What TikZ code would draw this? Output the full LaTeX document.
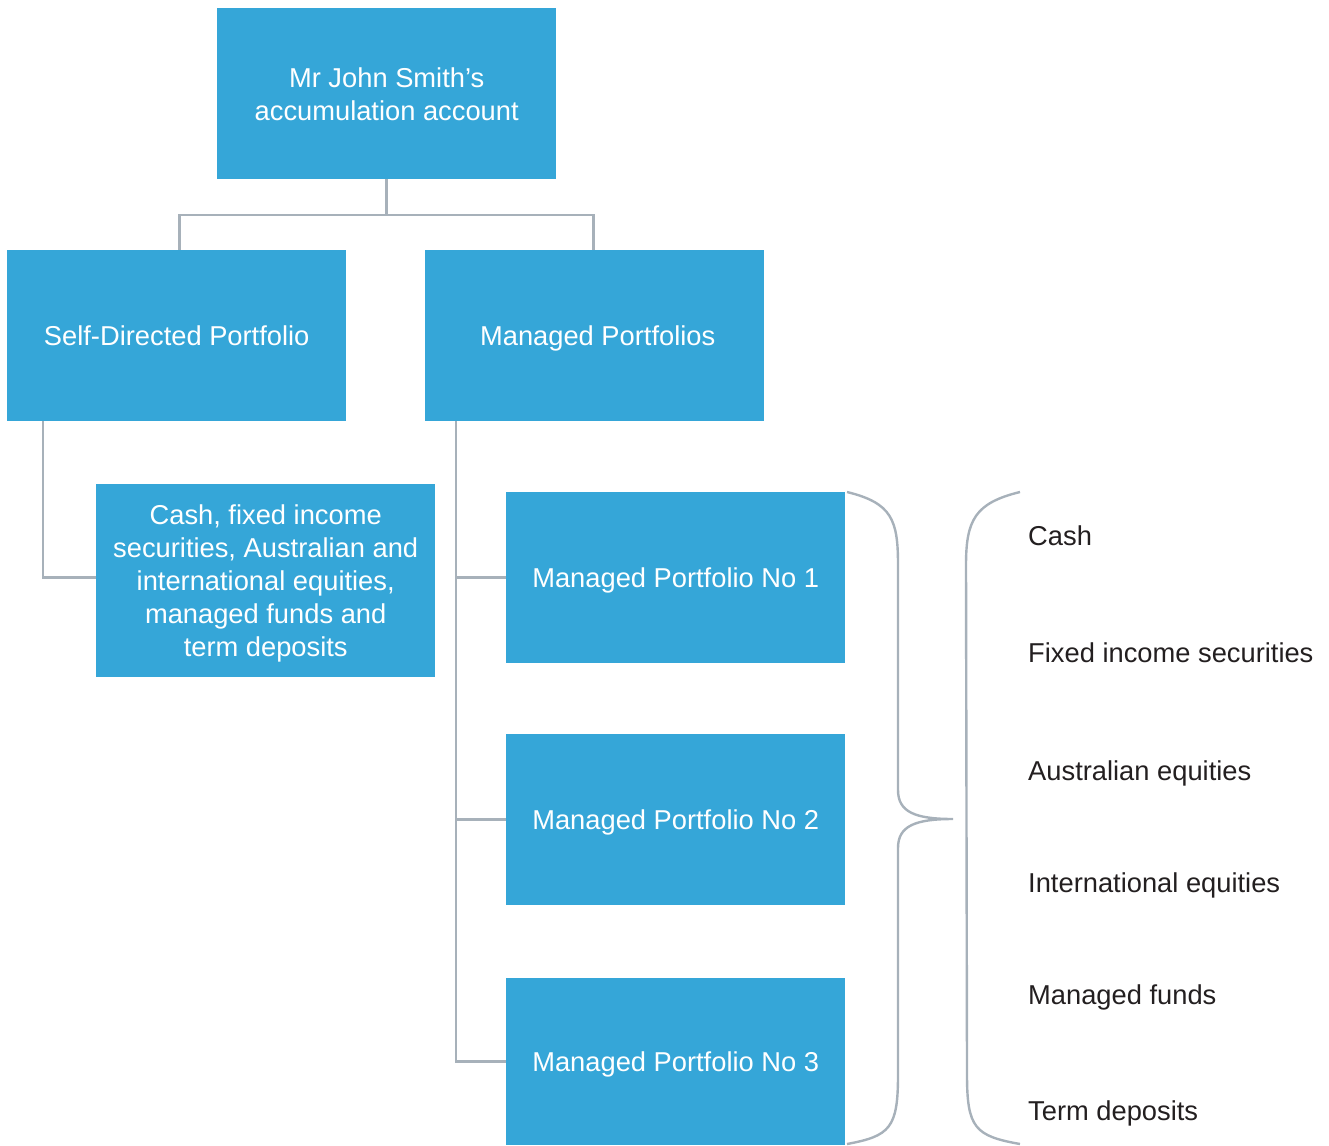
\documentclass[tikz,border=0pt]{standalone}
\usepackage{fontspec}
\setmainfont{Liberation Sans}
\definecolor{boxblue}{HTML}{35A6D8}
\definecolor{linegray}{HTML}{A7B1BA}
\definecolor{txt}{HTML}{231F20}
\begin{document}
\begin{tikzpicture}[x=1pt,y=-1pt,
  bluebox/.style={fill=boxblue,draw=none,text=white,anchor=north west,inner sep=0pt,
    minimum width=339pt,minimum height=171pt,align=center,text depth=0pt,
    font=\fontsize{27.3}{33}\selectfont},
  conn/.style={draw=linegray,line width=2.6pt},
  item/.style={anchor=base west,inner sep=0pt,text=txt,font=\fontsize{27.3}{33}\selectfont}]
\useasboundingbox (0,0) rectangle (1329,1145);
\node[bluebox] (top) at (217,8) {Mr John Smith’s\\accumulation account};
\node[bluebox] (sd) at (7,250) {Self-Directed Portfolio};
\node[bluebox] (mp) at (425,250) {\hspace*{6pt}Managed Portfolios};
\node[bluebox,minimum height=193pt] (cash) at (96,484) {Cash, fixed income\\securities, Australian and\\international equities,\\managed funds and\\term deposits};
\node[bluebox] (mp1) at (506,492) {Managed Portfolio No 1};
\node[bluebox] (mp2) at (506,734) {Managed Portfolio No 2};
\node[bluebox,minimum height=167pt] (mp3) at (506,978) {Managed Portfolio No 3};
% tree connectors
\coordinate (j) at (386,215);
\draw[conn] (top.south) -- (top.south |- j);
\draw[conn] ([xshift=3pt]sd.north) |- (j) -| ([xshift=-1pt]mp.north);
\draw[conn] ([xshift=36pt]sd.south west) |- ([yshift=3pt]cash.west);
\coordinate (sp) at ([xshift=31pt]mp.south west);
\draw[conn] (sp) |- (mp3.west);
\draw[conn] (mp1.west -| sp) -- (mp1.west);
\draw[conn] (mp2.west -| sp) -- (mp2.west);
% closing brace
\draw[conn,line width=2.4pt] (847,492) .. controls (892,503) and (898,520) .. (898,565)
  -- (898,790) .. controls (898,812) and (915,819) .. (953,819)
  .. controls (915,819) and (898,826) .. (898,848)
  -- (898,1075) .. controls (898,1128) and (890,1136) .. (847,1144);
% opening bracket
\draw[conn,line width=2.4pt] (1020,492) .. controls (975,503) and (966,520) .. (966,565)
  -- (967,1075) .. controls (967,1128) and (975,1136) .. (1020,1144);
% items
\node[item] (i1) at (1028,545) {Cash};
\node[item] (i2) at (1028,662) {Fixed income securities};
\node[item] (i3) at (1028,780) {Australian equities};
\node[item] (i4) at (1028,892) {International equities};
\node[item] (i5) at (1028,1004) {Managed funds};
\node[item] (i6) at (1028,1120) {Term deposits};
\end{tikzpicture}
\end{document}
